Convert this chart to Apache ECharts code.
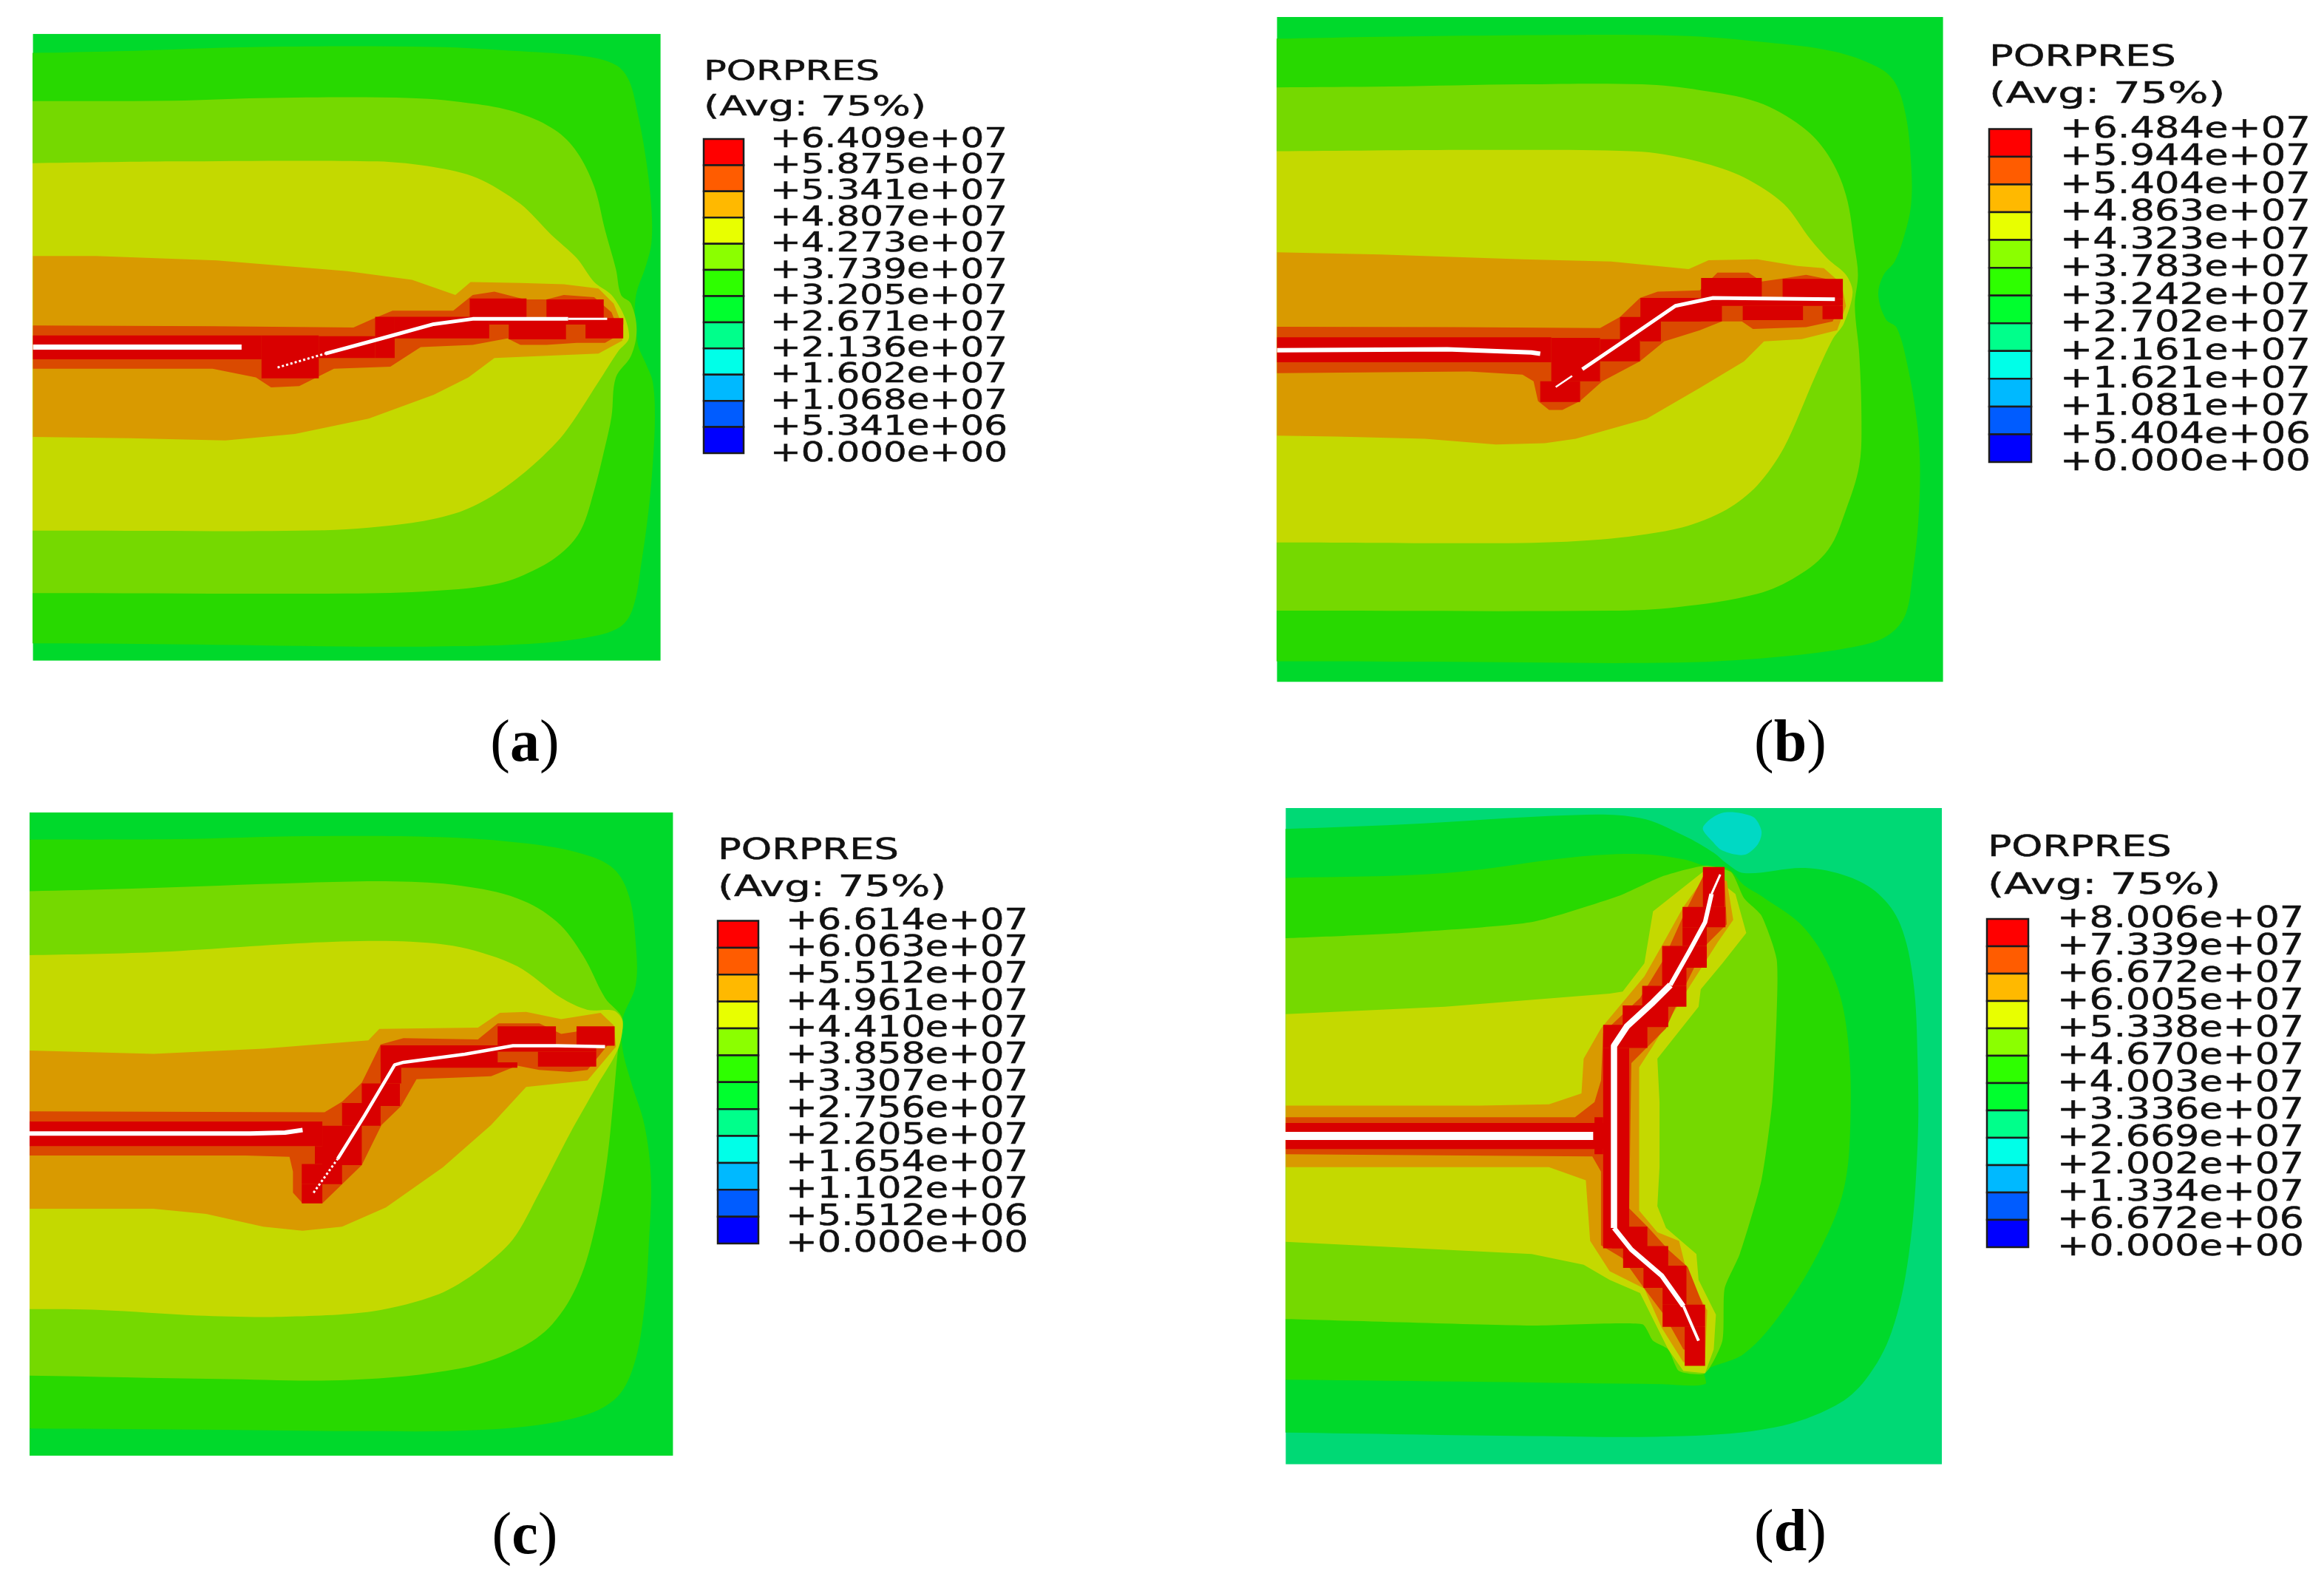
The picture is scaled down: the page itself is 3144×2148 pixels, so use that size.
<!DOCTYPE html>
<html><head><meta charset="utf-8">
<style>html,body{margin:0;padding:0;background:#fff}#c{width:3144px;height:2148px}</style>
<script src="https://cdn.jsdelivr.net/npm/echarts@6/dist/echarts.min.js"></script>
</head><body><div id="c"></div>
<script>
// ---- legend
const legendColors=['#FF0000','#FF5C00','#FFB900','#E8FF00','#8BFF00','#2EFF00','#00FF2E','#00FF8B','#00FFE8','#00B9FF','#005CFF','#0000FF'];
const ticksA=['+6.409e+07','+5.875e+07','+5.341e+07','+4.807e+07','+4.273e+07','+3.739e+07','+3.205e+07','+2.671e+07','+2.136e+07','+1.602e+07','+1.068e+07','+5.341e+06','+0.000e+00'];
const ticksB=['+6.484e+07','+5.944e+07','+5.404e+07','+4.863e+07','+4.323e+07','+3.783e+07','+3.242e+07','+2.702e+07','+2.161e+07','+1.621e+07','+1.081e+07','+5.404e+06','+0.000e+00'];
const ticksC=['+6.614e+07','+6.063e+07','+5.512e+07','+4.961e+07','+4.410e+07','+3.858e+07','+3.307e+07','+2.756e+07','+2.205e+07','+1.654e+07','+1.102e+07','+5.512e+06','+0.000e+00'];
const ticksD=['+8.006e+07','+7.339e+07','+6.672e+07','+6.005e+07','+5.338e+07','+4.670e+07','+4.003e+07','+3.336e+07','+2.669e+07','+2.002e+07','+1.334e+07','+6.672e+06','+0.000e+00'];
const titleLines=['PORPRES','(Avg: 75%)'];
const captions=['a','b','c','d'];
// ---- contour bands, outermost first
const bandColorsABC=['#00D92B','#28D900','#75D900','#C4D900','#D99A00','#DA4A00'];
const bandColorsD=['#00D975','#00D92B','#00D9C4','#28D900','#75D900','#C4D900','#D99A00','#DA4A00'];
const smoothABC=[0,0.35,0.35,0.3,0,0];
const smoothD=[0,0.35,0.3,0.35,0.2,0,0,0];
const bandsA=[
[[76,78],[1523,78],[1523,1523],[76,1523]],
[[76,122],[270,118],[600,108],[1000,108],[1200,118],[1350,130],[1420,150],[1450,185],[1470,260],[1490,370],[1502,480],[1502,560],[1490,610],[1465,690],[1470,790],[1490,840],[1505,880],[1510,960],[1505,1070],[1495,1180],[1480,1290],[1460,1400],[1430,1445],[1350,1470],[1200,1485],[1000,1490],[800,1490],[400,1485],[76,1483]],
[[76,233],[400,232],[600,226],[950,226],[1100,240],[1200,262],[1280,300],[1330,350],[1370,430],[1395,530],[1420,620],[1432,680],[1455,700],[1468,760],[1455,820],[1420,870],[1410,960],[1395,1030],[1370,1130],[1340,1220],[1300,1270],[1240,1310],[1150,1345],[1000,1362],[800,1368],[76,1367]],
[[76,376],[400,372],[870,372],[1000,385],[1100,410],[1200,470],[1270,540],[1330,595],[1370,650],[1410,680],[1440,730],[1450,780],[1425,810],[1380,880],[1300,1000],[1220,1080],[1140,1140],[1060,1180],[950,1205],[750,1222],[76,1223]],
[[76,590],[220,590],[500,600],[800,625],[950,645],[1050,680],[1085,650],[1200,652],[1300,655],[1380,665],[1415,700],[1435,750],[1435,785],[1380,815],[1260,820],[1140,825],[1080,870],[1000,910],[850,965],[680,1000],[520,1015],[300,1010],[76,1007]],
[[76,750],[490,752],[815,755],[860,735],[905,716],[1045,716],[1090,680],[1140,672],[1210,690],[1260,690],[1300,680],[1370,685],[1410,720],[1430,770],[1395,790],[1330,790],[1260,795],[1200,795],[1170,780],[1090,795],[970,800],[900,845],[770,850],[730,870],[690,890],[625,893],[590,870],[490,850],[76,850]]
];
const bandsB=[
[[46,38],[1549,38],[1549,1539],[46,1539]],
[[46,87],[250,83],[500,80],[950,80],[1150,95],[1300,115],[1400,150],[1440,185],[1465,260],[1477,370],[1477,460],[1462,530],[1440,590],[1415,620],[1403,665],[1420,720],[1445,740],[1470,830],[1490,950],[1497,1050],[1493,1180],[1480,1300],[1465,1385],[1430,1430],[1370,1455],[1200,1480],[950,1495],[400,1493],[46,1492]],
[[46,197],[300,195],[600,190],[870,190],[1000,203],[1130,230],[1230,285],[1290,350],[1330,440],[1350,560],[1357,620],[1350,690],[1360,800],[1365,950],[1360,1050],[1330,1150],[1290,1240],[1220,1300],[1130,1340],[950,1370],[800,1378],[46,1378]],
[[46,341],[500,338],[870,342],[1000,365],[1100,400],[1190,460],[1250,540],[1290,585],[1330,620],[1345,660],[1325,730],[1300,765],[1260,850],[1190,1010],[1130,1095],[1060,1150],[960,1190],[800,1215],[600,1225],[46,1224]],
[[46,569],[280,574],[600,585],[800,590],[975,607],[1020,587],[1130,585],[1220,600],[1280,605],[1320,640],[1330,690],[1310,745],[1230,765],[1145,770],[1100,815],[1000,875],[880,945],[720,990],[650,1000],[540,1003],[380,990],[180,985],[46,983]],
[[46,737],[450,738],[775,740],[820,715],[865,672],[905,658],[1000,655],[1040,615],[1110,615],[1140,635],[1190,628],[1240,620],[1290,630],[1320,680],[1300,725],[1240,738],[1120,742],[1095,725],[1050,725],[1000,745],[920,770],[865,815],[780,860],[730,905],[690,925],[660,925],[635,905],[625,860],[600,845],[480,838],[46,842]]
];
const bandsC=[
[[67,32],[1535,32],[1535,1551],[67,1551]],
[[67,96],[400,95],[700,88],[1000,90],[1200,105],[1330,130],[1400,165],[1435,230],[1450,340],[1450,440],[1420,520],[1420,590],[1440,670],[1470,770],[1485,900],[1480,1050],[1470,1200],[1445,1340],[1400,1420],[1300,1465],[1100,1490],[800,1493],[500,1490],[67,1487]],
[[67,218],[300,212],[700,198],[900,195],[1050,205],[1180,235],[1270,290],[1330,370],[1380,470],[1420,520],[1410,590],[1400,700],[1385,850],[1360,1000],[1320,1140],[1260,1240],[1180,1300],[1050,1345],[800,1372],[500,1370],[67,1362]],
[[67,369],[350,362],[700,340],[900,336],[1050,350],[1180,395],[1280,470],[1340,498],[1400,500],[1420,525],[1410,590],[1360,680],[1300,790],[1230,930],[1170,1040],[1090,1115],[1000,1170],[850,1210],[640,1223],[450,1220],[230,1207],[67,1205]],
[[67,594],[350,602],[600,590],[840,570],[865,543],[1090,540],[1140,505],[1200,503],[1280,520],[1370,505],[1400,535],[1405,585],[1340,665],[1200,680],[1120,770],[1010,870],[880,965],[780,1010],[690,1020],[600,1010],[470,980],[350,968],[67,968]],
[[67,738],[740,740],[780,715],[825,670],[868,580],[920,565],[1090,568],[1135,530],[1230,530],[1280,555],[1375,540],[1395,570],[1340,640],[1300,645],[1230,640],[1180,630],[1120,655],[950,662],[915,725],[870,770],[825,865],[735,955],[690,955],[668,930],[668,880],[660,845],[560,842],[67,842]]
];
const bandsD=[
[[33,22],[1546,22],[1546,1535],[33,1535]],
[[33,70],[300,60],[700,38],[850,45],[950,85],[1020,125],[1050,150],[1090,172],[1230,160],[1330,180],[1400,220],[1450,290],[1480,420],[1490,600],[1490,800],[1470,1050],[1430,1230],[1370,1340],[1300,1400],[1160,1450],[950,1470],[600,1470],[33,1462]],
[[995,67],[1040,33],[1110,42],[1130,75],[1122,105],[1090,130],[1040,120],[1018,100]],
[[33,183],[400,172],[700,135],[850,128],[950,140],[1000,155],[1050,160],[1090,200],[1130,225],[1230,300],[1300,420],[1330,560],[1335,750],[1320,900],[1270,1030],[1180,1180],[1090,1280],[1000,1320],[1000,1350],[900,1350],[500,1345],[33,1340]],
[[33,322],[300,310],[600,285],[800,225],[900,180],[1000,155],[1060,170],[1090,230],[1130,270],[1165,370],[1165,500],[1155,700],[1130,880],[1080,1050],[1045,1130],[1040,1250],[1000,1325],[940,1320],[915,1270],[880,1250],[855,1212],[600,1215],[33,1200]],
[[33,497],[400,480],[780,450],[810,445],[860,380],[880,260],[1000,165],[1070,220],[1095,310],[1040,380],[990,440],[985,480],[890,600],[895,700],[895,850],[890,940],[910,990],[980,1050],[985,1110],[1025,1190],[1020,1270],[1000,1325],[950,1320],[915,1270],[880,1200],[850,1140],[780,1110],[720,1075],[600,1050],[33,1022]],
[[33,708],[480,708],[640,705],[715,680],[720,600],[760,530],[860,410],[900,340],[950,250],[1000,180],[1050,190],[1065,280],[1030,330],[960,440],[880,570],[848,620],[848,950],[890,1000],[940,1020],[960,1100],[1005,1180],[1000,1290],[950,1300],[900,1220],[860,1130],[780,1090],[735,1020],[725,880],[640,850],[33,850]],
[[33,735],[700,735],[745,700],[760,650],[765,540],[850,460],[905,370],[950,270],[995,180],[1045,190],[1050,290],[1000,340],[950,440],[910,530],[830,610],[825,945],[870,990],[915,1040],[960,1080],[1000,1180],[990,1280],[950,1270],[905,1190],[860,1130],[810,1060],[760,1030],[760,860],[740,825],[33,820]]
];
// ---- saturated element cells [x0,y0,x1,y1]
const cellsA=[[76,773,603,828],[603,773,735,872],[735,775,865,825],[865,730,910,825],[910,730,1128,780],[1083,688,1214,735],[1260,690,1392,735],[1128,733,1437,748],[1173,748,1305,782],[1350,735,1437,780]];
const cellsB=[[46,761,665,817],[640,860,730,907],[665,762,775,860],[775,765,865,815],[820,715,912,768],[866,672,1003,725],[1003,627,1140,675],[1187,629,1323,675],[950,675,1323,690],[912,690,1050,725],[1097,690,1233,722],[1277,690,1323,720],[866,725,912,770],[1003,672,1050,690]];
const cellsC=[[67,762,735,820],[718,820,780,862],[688,862,780,910],[688,910,735,955],[735,772,825,865],[780,718,868,772],[825,672,912,725],[868,582,915,672],[868,582,1135,622],[1135,537,1268,582],[1315,537,1402,583],[915,622,1180,635],[1135,582,1360,597],[1227,597,1360,632]];
const cellsD=[[33,748,765,808],[745,735,765,820],[995,158,1045,250],[948,250,1047,297],[948,297,1004,340],[901,340,1004,390],[901,390,957,432],[855,432,957,480],[810,477,915,527],[765,522,867,575],[765,575,825,1037],[785,987,867,1037],[811,1032,915,1082],[858,1077,957,1128],[902,1128,957,1167],[902,1167,1000,1218],[953,1218,1000,1308]];
// ---- fracture traces: [line width, dash, points]
const cracksA=[[7,'solid',[[76,800],[557,800]]],[3,'dotted',[[640,847],[750,815]]],[5,'solid',[[750,815],[880,780],[1000,747],[1090,735],[1310,735]]],[3,'solid',[[1310,735],[1400,735]]]];
const cracksB=[[6,'solid',[[46,790],[430,788],[620,795],[640,798]]],[2.5,'solid',[[675,873],[712,848]]],[5,'solid',[[735,833],[850,755],[945,690],[1030,672],[1100,673],[1305,675]]]];
const cracksC=[[6,'solid',[[62,790],[570,790],[650,788],[690,782]]],[3,'dotted',[[715,930],[770,850]]],[4.5,'solid',[[770,850],[830,750],[900,628],[920,622],[1060,603],[1170,583],[1270,583],[1380,585]]]];
const cracksD=[[11,'solid',[[30,778],[742,778]]],[8.5,'solid',[[790,990],[790,570],[820,525],[880,470],[920,430]]],[6,'solid',[[920,430],[965,350],[1000,285],[1015,220]]],[3,'solid',[[1015,220],[1035,175]]],[6.5,'solid',[[790,990],[830,1040],[900,1100],[950,1170]]],[4,'solid',[[950,1170],[985,1250]]]];

// ---- page layout
const FONT='"DejaVu Sans"';
const panels=[
 {bands:bandsA,colors:bandColorsABC,smooth:smoothABC,cells:cellsA,cracks:cracksA,ticks:ticksA,box:[44.6,45.8,849,848],ext:[76,1523,78,1523],bar:[952,188,54,425],labelX:1042,labelW:321,titleX:952,titleW:238,avgW:298,titleY:[98,146],capture:[710,1008]},
 {bands:bandsB,colors:bandColorsABC,smooth:smoothABC,cells:cellsB,cracks:cracksB,ticks:ticksB,box:[1727.6,23,901,899.6],ext:[46,1549,38,1539],bar:[2691,174.4,57,450.6],labelX:2787,labelW:339,titleX:2691,titleW:253,avgW:316,titleY:[78.5,129],capture:[2422,1008]},
 {bands:bandsC,colors:bandColorsABC,smooth:smoothABC,cells:cellsC,cracks:cracksC,ticks:ticksC,box:[40,1099,870.4,870],ext:[67,1535,32,1551],bar:[971,1245.6,55,436.4],labelX:1063,labelW:328,titleX:971,titleW:245,avgW:306,titleY:[1152,1202],capture:[710,2080]},
 {bands:bandsD,colors:bandColorsD,smooth:smoothD,cells:cellsD,cracks:cracksD,ticks:ticksD,box:[1739.4,1093,887.6,887.7],ext:[33,1546,22,1535],bar:[2688,1243,56,444],labelX:2783,labelW:334,titleX:2689,titleW:249,avgW:312,titleY:[1148,1198.5],capture:[2422,2076]}
];
const grid=[],xAxis=[],yAxis=[],series=[],graphic=[];
const hid={show:false};
panels.forEach((p,k)=>{
  const gi=grid.length;
  grid.push({left:p.box[0],top:p.box[1],width:p.box[2],height:p.box[3],containLabel:false,show:false});
  xAxis.push({type:'value',gridIndex:gi,min:p.ext[0],max:p.ext[1],show:false,splitLine:hid});
  yAxis.push({type:'value',gridIndex:gi,min:p.ext[2],max:p.ext[3],inverse:true,show:false,splitLine:hid});
  series.push({type:'custom',name:'bands'+captions[k],xAxisIndex:gi,yAxisIndex:gi,z:2,silent:true,animation:false,clip:true,
    data:p.bands.map(b=>b[0]),
    renderItem:(par,api)=>{
      const b=p.bands[par.dataIndex],sm=p.smooth[par.dataIndex];
      let pts=b;
      // Open bands run off the left edge, so the curve leaves the panel straight and is clipped there.
      if(sm&&b[0][0]===p.ext[0]) pts=[[b[0][0]-80,b[0][1]]].concat(b,[[b[0][0]-80,b[b.length-1][1]]]);
      return {type:'polygon',shape:{points:pts.map(q=>api.coord(q)),smooth:sm},style:{fill:p.colors[par.dataIndex]}};
    }});
  series.push({type:'custom',name:'cells'+captions[k],xAxisIndex:gi,yAxisIndex:gi,z:3,silent:true,animation:false,clip:true,
    data:p.cells.map(c=>[c[0],c[1]]),
    renderItem:(par,api)=>{const c=p.cells[par.dataIndex],a=api.coord([c[0],c[1]]),b=api.coord([c[2],c[3]]);
      return {type:'rect',shape:{x:a[0],y:a[1],width:b[0]-a[0],height:b[1]-a[1]},style:{fill:'#D90000'}};}});
  p.cracks.forEach(cr=>series.push({type:'line',name:'crack'+captions[k],xAxisIndex:gi,yAxisIndex:gi,z:4,silent:true,animation:false,symbol:'none',clip:true,
    data:cr[2],lineStyle:{color:'#fff',width:cr[0],type:cr[1],cap:'butt',join:'round'}}));
  // legend bar
  const li=grid.length,[bx,by,bw,bh]=p.bar,rh=bh/12,fs=rh*1.05;
  grid.push({left:bx,top:by,width:bw,height:bh,containLabel:false,show:false});
  xAxis.push({type:'value',gridIndex:li,min:0,max:1,show:false,splitLine:hid});
  yAxis.push({type:'value',gridIndex:li,min:0,max:12,interval:1,position:'right',splitLine:hid,axisLine:hid,axisLabel:hid,
    axisTick:{show:true,length:18,lineStyle:{color:'#222',width:1.5}}});
  series.push({type:'custom',name:'legend'+captions[k],xAxisIndex:li,yAxisIndex:li,z:3,silent:true,animation:false,
    data:legendColors.map((c,i)=>[0,11-i]),
    renderItem:(par,api)=>{const a=api.coord([0,12-par.dataIndex]),b=api.coord([1,11-par.dataIndex]);
      return {type:'rect',shape:{x:a[0],y:a[1],width:b[0]-a[0],height:b[1]-a[1]},style:{fill:legendColors[par.dataIndex],stroke:'#1c1c1c',lineWidth:2.5}};}});
  const sx=p.labelW/(6.425*fs);
  const txt=(text,x,y,scaleX)=>({type:'text',x,y,scaleX,silent:true,z:5,style:{x:0,y:0,text,font:fs+'px '+FONT,fill:'#111',stroke:'#111',lineWidth:0.5,align:'left',verticalAlign:'middle'}});
  series.push({type:'custom',name:'ticks'+captions[k],xAxisIndex:li,yAxisIndex:li,z:3,silent:true,animation:false,clip:false,
    data:p.ticks.map((t,i)=>[1,12-i]),
    renderItem:(par,api)=>txt(p.ticks[par.dataIndex],p.labelX,api.coord([1,12-par.dataIndex])[1]+1,sx)});
  graphic.push(txt(titleLines[0],p.titleX,p.titleY[0],p.titleW/(4.65*fs)));
  graphic.push(txt(titleLines[1],p.titleX,p.titleY[1],p.avgW/(5.45*fs)));
  graphic.push({type:'text',x:p.capture[0],y:p.capture[1],silent:true,z:5,
    style:{x:0,y:0,text:'{n|(}{b|'+captions[k]+'}{n|)}',align:'center',verticalAlign:'middle',fill:'#000',
      rich:{n:{font:'80px "Liberation Serif"',fill:'#000'},b:{font:'bold 80px "Liberation Serif"',fill:'#000'}}}});
});
const chart=echarts.init(document.getElementById('c'),null,{renderer:'canvas'});
chart.setOption({animation:false,backgroundColor:'#fff',grid,xAxis,yAxis,series,graphic});
</script></body></html>
